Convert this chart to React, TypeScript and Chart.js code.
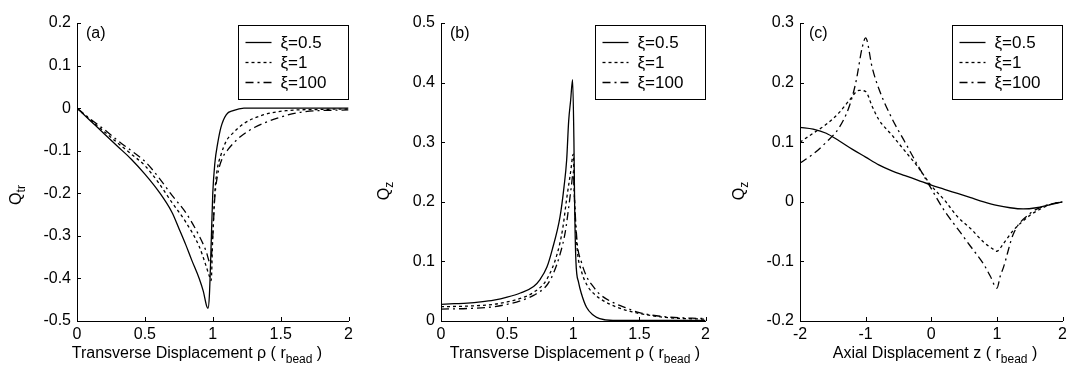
import React, { useEffect, useRef } from "react";
import { Chart, registerables } from "chart.js";
Chart.register(...registerables);

const FONT = "'Liberation Sans', Arial, sans-serif";

const seriesLabels = ["ξ=0.5", "ξ=1", "ξ=100"];
const seriesDashes: number[][] = [[], [3, 3], [8, 4, 2, 4]];

// Panel (a): Q_tr vs transverse displacement
const aX1 = [0, 0.1, 0.2, 0.3, 0.4, 0.5, 0.6, 0.7, 0.75, 0.8, 0.845, 0.9, 0.93, 0.955, 0.965, 0.975, 0.99, 1.0, 1.015, 1.036, 1.06, 1.1, 1.15, 1.23, 1.5, 1.75, 2];
const aY1 = [0, -0.03, -0.06, -0.09, -0.12, -0.155, -0.195, -0.245, -0.282, -0.32, -0.357, -0.4, -0.43, -0.465, -0.47, -0.44, -0.3, -0.2, -0.13, -0.083, -0.045, -0.015, -0.006, 0, 0, 0, 0];
const aX2 = [0, 0.1, 0.2, 0.3, 0.4, 0.5, 0.6, 0.7, 0.8, 0.9, 0.95, 0.975, 0.988, 1.0, 1.015, 1.03, 1.06, 1.1, 1.15, 1.23, 1.37, 1.54, 1.8, 2];
const aY2 = [0, -0.028, -0.055, -0.082, -0.108, -0.135, -0.175, -0.222, -0.267, -0.325, -0.37, -0.395, -0.405, -0.3, -0.2, -0.15, -0.11, -0.077, -0.058, -0.036, -0.016, -0.006, -0.003, -0.002];
const aX3 = [0, 0.1, 0.2, 0.3, 0.4, 0.5, 0.6, 0.7, 0.8, 0.9, 0.95, 0.983, 1.0, 1.015, 1.04, 1.07, 1.11, 1.2, 1.31, 1.47, 1.66, 2];
const aY3 = [0, -0.026, -0.05, -0.076, -0.1, -0.125, -0.162, -0.205, -0.245, -0.3, -0.335, -0.365, -0.3, -0.21, -0.15, -0.118, -0.098, -0.068, -0.045, -0.024, -0.009, -0.004];

// Panel (b): Q_z vs transverse displacement
const bX1 = [0, 0.1, 0.2, 0.3, 0.4, 0.5, 0.6, 0.7, 0.75, 0.8, 0.84, 0.9, 0.93, 0.95, 0.965, 0.98, 0.995, 1.005, 1.01, 1.02, 1.04, 1.06, 1.1, 1.15, 1.2, 1.3, 1.5, 2];
const bY1 = [0.028, 0.029, 0.03, 0.032, 0.035, 0.04, 0.047, 0.058, 0.07, 0.09, 0.119, 0.175, 0.225, 0.27, 0.335, 0.37, 0.405, 0.3, 0.2, 0.1, 0.065, 0.047, 0.023, 0.01, 0.004, 0.001, 0.001, 0.001];
const bX2 = [0, 0.2, 0.4, 0.5, 0.6, 0.7, 0.8, 0.88, 0.92, 0.95, 0.98, 1.0, 1.01, 1.03, 1.06, 1.11, 1.16, 1.22, 1.32, 1.4, 1.49, 1.7, 2];
const bY2 = [0.024, 0.025, 0.028, 0.032, 0.038, 0.048, 0.07, 0.114, 0.155, 0.205, 0.25, 0.28, 0.2, 0.12, 0.085, 0.058, 0.045, 0.035, 0.024, 0.018, 0.013, 0.006, 0.003];
const bX3 = [0, 0.2, 0.4, 0.5, 0.6, 0.7, 0.8, 0.85, 0.9, 0.94, 0.965, 0.985, 1.0, 1.01, 1.03, 1.06, 1.1, 1.15, 1.2, 1.32, 1.4, 1.5, 1.7, 2];
const bY3 = [0.02, 0.021, 0.024, 0.028, 0.034, 0.043, 0.06, 0.08, 0.112, 0.15, 0.19, 0.225, 0.25, 0.2, 0.13, 0.1, 0.075, 0.058, 0.045, 0.029, 0.022, 0.014, 0.007, 0.004];

// Panel (c): Q_z vs axial displacement
const cX1 = [-2, -1.8, -1.6, -1.4, -1.2, -1, -0.8, -0.6, -0.4, -0.2, 0, 0.2, 0.4, 0.6, 0.8, 1, 1.2, 1.4, 1.6, 1.8, 2];
const cY1 = [0.125, 0.122, 0.115, 0.102, 0.088, 0.075, 0.062, 0.052, 0.044, 0.036, 0.028, 0.021, 0.014, 0.007, 0.0, -0.006, -0.01, -0.012, -0.01, -0.005, 0.0];
const cX2 = [-2, -1.8, -1.6, -1.4, -1.25, -1.1, -1.0, -0.9, -0.8, -0.6, -0.4, -0.2, 0, 0.2, 0.4, 0.6, 0.8, 0.95, 1.0, 1.1, 1.25, 1.5, 1.7, 1.85, 2];
const cY2 = [0.1, 0.115, 0.13, 0.15, 0.17, 0.187, 0.185, 0.16, 0.138, 0.112, 0.085, 0.058, 0.027, 0.003, -0.025, -0.045, -0.068, -0.08, -0.083, -0.07, -0.048, -0.023, -0.01, -0.003, 0];
const cX3 = [-2, -1.8, -1.6, -1.4, -1.25, -1.15, -1.05, -1.0, -0.9, -0.8, -0.6, -0.4, -0.2, 0, 0.2, 0.4, 0.6, 0.8, 0.9, 1.0, 1.05, 1.1, 1.25, 1.5, 1.7, 1.85, 2];
const cY3 = [0.065, 0.08, 0.1, 0.125, 0.16, 0.2, 0.26, 0.275, 0.225, 0.19, 0.14, 0.1, 0.06, 0.022, -0.015, -0.045, -0.075, -0.105, -0.125, -0.145, -0.125, -0.11, -0.054, -0.02, -0.008, -0.003, 0];

const aXTicks = [0, 0.5, 1, 1.5, 2];
const aYTicks = [-0.5, -0.4, -0.3, -0.2, -0.1, 0, 0.1, 0.2];
const bXTicks = [0, 0.5, 1, 1.5, 2];
const bYTicks = [0, 0.1, 0.2, 0.3, 0.4, 0.5];
const cXTicks = [-2, -1, 0, 1, 2];
const cYTicks = [-0.2, -0.1, 0, 0.1, 0.2, 0.3];

type Panel = {
  tag: string;
  xs: number[][];
  ys: number[][];
  xTicks: number[];
  yTicks: number[];
  yMain: string;
  ySub: string;
  xMain: string;
  left: number;
  right: number;
  yTitleX: number;
  yTitleY: number;
  xTitleX: number;
  canvasLeft: number;
};

const panels: Panel[] = [
  { tag: "(a)", xs: [aX1, aX2, aX3], ys: [aY1, aY2, aY3], xTicks: aXTicks, yTicks: aYTicks, yMain: "Q", ySub: "tr", xMain: "Transverse Displacement ρ ( r", left: 77, right: 4, yTitleX: 15, yTitleY: 195, xTitleX: 197, canvasLeft: 0 },
  { tag: "(b)", xs: [bX1, bX2, bX3], ys: [bY1, bY2, bY3], xTicks: bXTicks, yTicks: bYTicks, yMain: "Q", ySub: "z", xMain: "Transverse Displacement ρ ( r", left: 84, right: 2, yTitleX: 26, yTitleY: 191, xTitleX: 218, canvasLeft: 357 },
  { tag: "(c)", xs: [cX1, cX2, cX3], ys: [cY1, cY2, cY3], xTicks: cXTicks, yTicks: cYTicks, yMain: "Q", ySub: "z", xMain: "Axial Displacement z ( r", left: 86, right: 1, yTitleX: 24, yTitleY: 191, xTitleX: 221, canvasLeft: 714 },
];

const W = 357;
const H = 370;
const TOP = 23;
const BOTTOM = 321;
const TICK_SIZE = 16;
const TITLE_SIZE = 16;
const SUB_SIZE = 12;
const LEGEND_SIZE = 17;

function fmt(v: number) {
  const r = Math.round(v * 10) / 10;
  return r === 0 ? "0" : String(r);
}

function PanelChart({ p }: { p: Panel }) {
  const ref = useRef<HTMLCanvasElement | null>(null);
  useEffect(() => {
    if (!ref.current) return;
    const deco = {
      id: "deco" + p.tag,
      afterDraw(chart: any) {
        const ctx = chart.ctx as CanvasRenderingContext2D;
        const ca = chart.chartArea;
        const xs = chart.scales.x;
        const ys = chart.scales.y;
        ctx.save();
        ctx.strokeStyle = "#000";
        ctx.lineWidth = 1;
        // inner ticks
        ctx.beginPath();
        p.xTicks.forEach((t) => {
          const px = Math.round(xs.getPixelForValue(t)) + 0.5;
          ctx.moveTo(px, ca.bottom);
          ctx.lineTo(px, ca.bottom - 4);
        });
        p.yTicks.forEach((t) => {
          const py = Math.round(ys.getPixelForValue(t)) + 0.5;
          ctx.moveTo(ca.left, py);
          ctx.lineTo(ca.left + 4, py);
        });
        ctx.stroke();
        // panel tag
        ctx.fillStyle = "#000";
        ctx.font = `${TITLE_SIZE}px ${FONT}`;
        ctx.textAlign = "left";
        ctx.textBaseline = "middle";
        ctx.fillText(p.tag, ca.left + 9, 34);
        // legend
        const bw = 110;
        const bx = Math.round(ca.right - 1 - bw) + 0.5;
        const by = 25.5;
        const bh = 74;
        ctx.fillStyle = "#fff";
        ctx.fillRect(bx, by, bw, bh);
        ctx.strokeRect(bx, by, bw, bh);
        chart.data.datasets.forEach((ds: any, i: number) => {
          const ry = by + 17 + i * 20;
          ctx.beginPath();
          ctx.setLineDash(ds.borderDash || []);
          ctx.lineWidth = 1.3;
          ctx.moveTo(bx + 7, ry);
          ctx.lineTo(bx + 33, ry);
          ctx.stroke();
          ctx.setLineDash([]);
          ctx.fillStyle = "#000";
          ctx.font = `${LEGEND_SIZE}px ${FONT}`;
          ctx.textBaseline = "middle";
          ctx.fillText(ds.label, bx + 42, ry + 1);
        });
        // y title (rotated, with subscript)
        ctx.save();
        ctx.translate(p.yTitleX, p.yTitleY);
        ctx.rotate(-Math.PI / 2);
        ctx.font = `${TITLE_SIZE}px ${FONT}`;
        const mw = ctx.measureText(p.yMain).width;
        ctx.font = `${SUB_SIZE}px ${FONT}`;
        const sw = ctx.measureText(p.ySub).width;
        const total = mw + sw;
        ctx.textBaseline = "alphabetic";
        ctx.textAlign = "left";
        ctx.font = `${TITLE_SIZE}px ${FONT}`;
        ctx.fillText(p.yMain, -total / 2, 6);
        ctx.font = `${SUB_SIZE}px ${FONT}`;
        ctx.fillText(p.ySub, -total / 2 + mw, 10);
        ctx.restore();
        // x title with subscript
        ctx.font = `${TITLE_SIZE}px ${FONT}`;
        const w1 = ctx.measureText(p.xMain).width;
        ctx.font = `${SUB_SIZE}px ${FONT}`;
        const w2 = ctx.measureText("bead").width;
        ctx.font = `${TITLE_SIZE}px ${FONT}`;
        const w3 = ctx.measureText(" )").width;
        const tw = w1 + w2 + w3;
        const x0 = p.xTitleX - tw / 2;
        ctx.textAlign = "left";
        ctx.textBaseline = "alphabetic";
        ctx.fillText(p.xMain, x0, 358);
        ctx.font = `${SUB_SIZE}px ${FONT}`;
        ctx.fillText("bead", x0 + w1, 363);
        ctx.font = `${TITLE_SIZE}px ${FONT}`;
        ctx.fillText(" )", x0 + w1 + w2, 358);
        ctx.restore();
      },
    };
    const chart = new Chart(ref.current, {
      type: "line",
      data: {
        datasets: p.xs.map((xv, i) => ({
          label: seriesLabels[i],
          data: xv.map((x, j) => ({ x, y: p.ys[i][j] })),
          borderColor: "#000",
          borderWidth: 1.3,
          borderDash: seriesDashes[i],
          pointRadius: 0,
          tension: 0.25,
          cubicInterpolationMode: "monotone",
          fill: false,
        })),
      },
      options: {
        animation: false,
        responsive: false,
        maintainAspectRatio: false,
        layout: { padding: { left: 0, right: p.right, top: TOP, bottom: 0 } },
        plugins: { legend: { display: false }, tooltip: { enabled: false }, title: { display: false } },
        scales: {
          x: {
            type: "linear",
            min: p.xTicks[0],
            max: p.xTicks[p.xTicks.length - 1],
            afterBuildTicks: (s: any) => {
              s.ticks = p.xTicks.map((v) => ({ value: v }));
            },
            afterFit: (s: any) => {
              s.height = H - BOTTOM;
            },
            grid: { display: true, drawOnChartArea: false, drawTicks: false },
            border: { display: true, color: "#000", width: 1 },
            ticks: { color: "#000", padding: 4, maxRotation: 0, font: { family: FONT, size: TICK_SIZE }, callback: (v: any) => fmt(Number(v)) },
          },
          y: {
            type: "linear",
            min: p.yTicks[0],
            max: p.yTicks[p.yTicks.length - 1],
            afterBuildTicks: (s: any) => {
              s.ticks = p.yTicks.map((v) => ({ value: v }));
            },
            afterFit: (s: any) => {
              s.width = p.left;
            },
            grid: { display: true, drawOnChartArea: false, drawTicks: false },
            border: { display: true, color: "#000", width: 1 },
            ticks: { color: "#000", padding: 6, font: { family: FONT, size: TICK_SIZE }, callback: (v: any) => fmt(Number(v)) },
          },
        },
      },
      plugins: [deco],
    } as any);
    return () => chart.destroy();
  }, [p]);
  return (
    <canvas
      ref={ref}
      width={W}
      height={H}
      style={{ position: "absolute", left: p.canvasLeft, top: 0, width: W, height: H }}
    />
  );
}

export default function App() {
  return (
    <div style={{ position: "fixed", left: 0, top: 0, width: 1071, height: 370, background: "#fff" }}>
      {panels.map((p) => (
        <PanelChart key={p.tag} p={p} />
      ))}
    </div>
  );
}
